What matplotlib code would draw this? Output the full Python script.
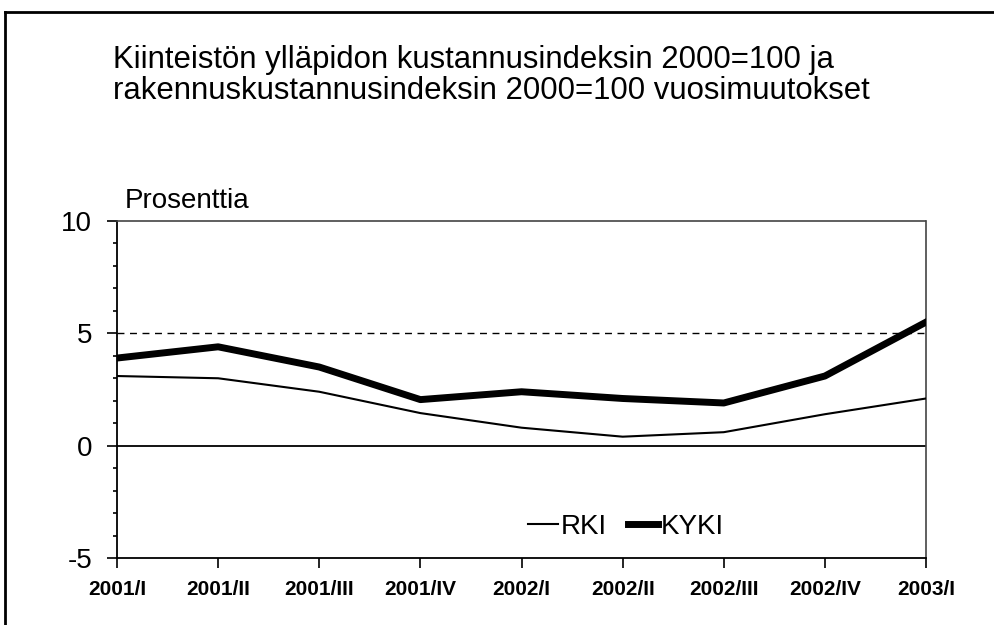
import matplotlib
matplotlib.use("Agg")
import matplotlib.pyplot as plt
from matplotlib.ticker import MultipleLocator
from matplotlib.lines import Line2D

plt.rcParams['font.family'] = ['Liberation Sans', 'DejaVu Sans']

categories = ["2001/I", "2001/II", "2001/III", "2001/IV", "2002/I",
              "2002/II", "2002/III", "2002/IV", "2003/I"]
rki = [3.1, 3.0, 2.4, 1.45, 0.8, 0.4, 0.6, 1.4, 2.1]
kyki = [3.9, 4.4, 3.5, 2.05, 2.4, 2.1, 1.9, 3.1, 5.5]
y_ticks = [-5, 0, 5, 10]
title_lines = ["Kiinteistön ylläpidon kustannusindeksin 2000=100 ja",
               "rakennuskustannusindeksin 2000=100 vuosimuutokset"]

fig = plt.figure(figsize=(9.95, 6.25), dpi=100)
ax = fig.add_axes([0.1176, 0.1072, 0.8131, 0.5392])

x = list(range(len(categories)))
ax.axhline(5, color='black', lw=1.0, ls=(0, (5, 4)), zorder=1)
ax.axhline(0, color='black', lw=1.3, zorder=1)
ax.plot(x, rki, color='black', lw=1.5, label='RKI', zorder=3)
ax.plot(x, kyki, color='black', lw=5, label='KYKI', zorder=3)

ax.set_xlim(0, len(categories) - 1)
ax.set_ylim(-5, 10)
ax.set_yticks(y_ticks)
ax.set_yticklabels([str(v) for v in y_ticks], fontsize=20)
ax.yaxis.set_minor_locator(MultipleLocator(1))
ax.set_xticks(x)
ax.set_xticklabels(categories, fontsize=15, fontweight='bold')

ax.tick_params(axis='y', which='major', length=7, width=1.2, direction='out', pad=11)
ax.tick_params(axis='y', which='minor', length=3, width=1.2, direction='out')
ax.tick_params(axis='x', which='major', length=7, width=1.2, direction='out', pad=9)

for s in ['top', 'right']:
    ax.spines[s].set_color('#444444')
    ax.spines[s].set_linestyle((0, (1, 1)))
    ax.spines[s].set_linewidth(1.2)
for s in ['left', 'bottom']:
    ax.spines[s].set_color('black')
    ax.spines[s].set_linewidth(1.3)

leg = ax.legend(loc='lower center', bbox_to_anchor=(0.629, 0.02), ncol=2, frameon=False,
                fontsize=20, handlelength=1.1, handletextpad=0.1, columnspacing=0.75,
                borderaxespad=0)

fig.text(0.1136, 1 - 68 / 625, title_lines[0], fontsize=22.4, va='baseline', ha='left')
fig.text(0.1136, 1 - 99 / 625, title_lines[1], fontsize=22.4, va='baseline', ha='left')
fig.text(0.1256, 1 - 208 / 625, "Prosenttia", fontsize=20, va='baseline', ha='left')

# outer frame lines
fig.add_artist(Line2D([0.005, 1.0], [0.981, 0.981], color='black', lw=2, transform=fig.transFigure))
fig.add_artist(Line2D([0.005, 0.005], [0.0, 0.981], color='black', lw=2, transform=fig.transFigure))

fig.savefig("out.png", dpi=100)
